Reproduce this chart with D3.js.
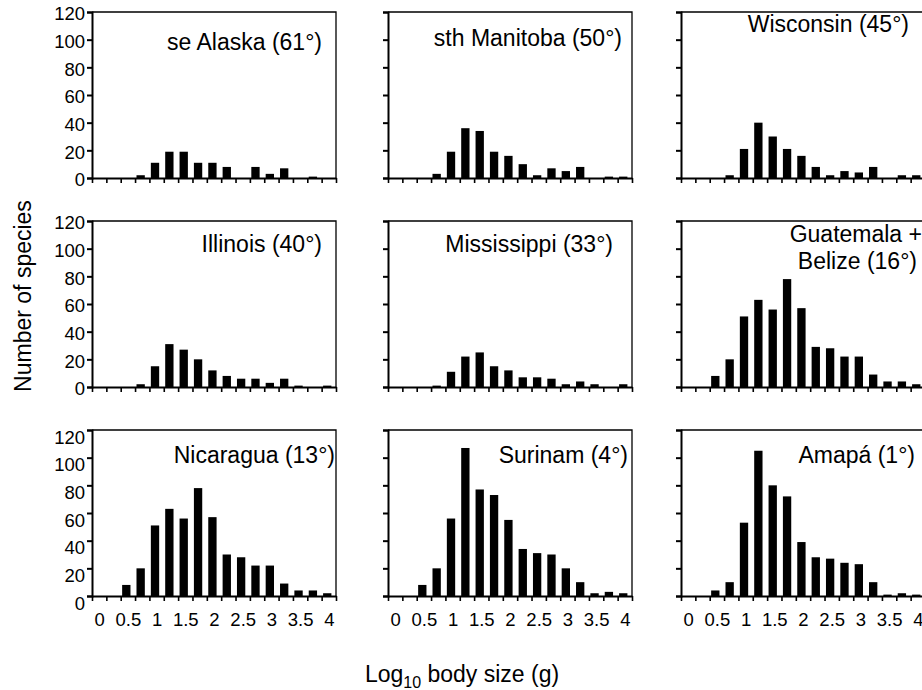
<!DOCTYPE html>
<html>
<head>
<meta charset="utf-8">
<script src="https://cdn.jsdelivr.net/npm/d3@7"></script>
<style>
  body { margin: 0; background: #fff; }
  svg { font-family: "Liberation Sans", Arial, sans-serif; }
</style>
</head>
<body>
<svg id="chart" width="922" height="690"></svg>
<script>
// bin centres, log10 body size (g)
var bins = [0, 0.25, 0.5, 0.75, 1, 1.25, 1.5, 1.75, 2, 2.25, 2.5, 2.75, 3, 3.25, 3.5, 3.75, 4];
var xLabels = [0, 0.5, 1, 1.5, 2, 2.5, 3, 3.5, 4];
var yTicks = [0, 20, 40, 60, 80, 100, 120];

var titles = [
  ["se Alaska (61°)"], ["sth Manitoba (50°)"], ["Wisconsin (45°)"],
  ["Illinois (40°)"], ["Mississippi (33°)"], ["Guatemala +", "Belize (16°)"],
  ["Nicaragua (13°)"], ["Surinam (4°)"], ["Amapá (1°)"]
];

// number of species per bin
var seAlaska        = [0, 0, 0, 2, 11, 19, 19, 11, 11, 8, 0, 8, 3, 7, 0, 1, 0];
var sthManitoba     = [0, 0, 0, 3, 19, 36, 34, 19, 16, 10, 2, 7, 5, 8, 0, 1, 1];
var wisconsin       = [0, 0, 0, 2, 21, 40, 30, 21, 16, 8, 2, 5, 4, 8, 0, 2, 2];
var illinois        = [0, 0, 0, 2, 15, 31, 27, 20, 12, 8, 6, 6, 3, 6, 1, 0, 1];
var mississippi     = [0, 0, 0, 1, 11, 22, 25, 15, 12, 7, 7, 6, 2, 4, 2, 0, 2];
var guatemalaBelize = [0, 0, 8, 20, 51, 63, 56, 78, 57, 29, 28, 22, 22, 9, 4, 4, 2];
var nicaragua       = [0, 0, 8, 20, 51, 63, 56, 78, 57, 30, 28, 22, 22, 9, 4, 4, 2];
var surinam         = [0, 0, 8, 20, 56, 107, 77, 73, 55, 34, 31, 30, 20, 10, 2, 3, 2];
var amapa           = [0, 0, 4, 10, 53, 105, 80, 72, 39, 28, 27, 24, 23, 10, 1, 2, 1];

var series = [seAlaska, sthManitoba, wisconsin, illinois, mississippi,
              guatemalaBelize, nicaragua, surinam, amapa];

// layout
var colLeft = [92, 388, 681],
    rowTop = [12, 221, 430],
    panelW = 244,
    panelH = 166;
// title placement per panel: [right inset, baseline below top]
var titlePos = [[14, 38], [10, 34], [16, 20], [14, 31], [19, 31], [3, 21], [1, 33], [4, 33], [10, 33]];

var svg = d3.select("#chart");
var step = 0.25;
var boundaries = bins.map(function(b) { return b - step / 2; }).concat([bins[bins.length - 1] + step / 2]);

series.forEach(function(data, i) {
  var col = i % 3, row = Math.floor(i / 3);
  var left = colLeft[col], top = rowTop[row];

  var x = d3.scaleLinear().domain([bins[0] - step / 2, bins[bins.length - 1] + step / 2]).range([0, panelW]);
  var y = d3.scaleLinear().domain([0, 120]).range([panelH, 0]);
  var stepPx = x(step) - x(0);

  var g = svg.append("g").attr("transform", "translate(" + left + "," + top + ")");

  // bars
  g.selectAll("rect.bar")
    .data(data)
    .enter().append("rect")
    .attr("class", "bar")
    .attr("x", function(d, j) { return x(bins[j] - step / 2) + stepPx * 0.1; })
    .attr("width", stepPx * 0.58)
    .attr("y", function(d) { return y(d); })
    .attr("height", function(d) { return panelH - y(d); })
    .style("fill", "#000");

  // frame: thin top / right
  g.append("path")
    .attr("d", "M0,0H" + panelW + "V" + panelH)
    .attr("fill", "none").attr("stroke", "#000").attr("stroke-width", 1.3);

  // y axis
  var yAxis = d3.axisLeft(y).tickValues(yTicks).tickSize(5).tickPadding(2)
    .tickFormat(col === 0 ? d3.format("d") : "");
  var ya = g.append("g").call(yAxis);
  ya.select(".domain").attr("stroke-width", 2);
  ya.selectAll(".tick line").attr("stroke-width", 2);
  ya.selectAll("text")
    .style("font-size", "18.5px")
    .attr("fill", "#000")
    .attr("dy", row === 2 ? "0.72em" : "0.42em");

  // x axis ticks at bin edges
  var xAxis = d3.axisBottom(x).tickValues(boundaries).tickSize(5).tickSizeOuter(0).tickFormat("");
  var xa = g.append("g").attr("transform", "translate(0," + panelH + ")").call(xAxis);
  xa.select(".domain").attr("stroke-width", 2);
  xa.selectAll(".tick line").attr("stroke-width", 1.6);

  // x tick labels only on bottom row
  if (row === 2) {
    var xl = g.append("g").attr("transform", "translate(0," + panelH + ")")
      .call(d3.axisBottom(x).tickValues(xLabels).tickSize(0).tickPadding(17).tickFormat(d3.format("")));
    xl.select(".domain").remove();
    xl.selectAll("text").style("font-size", "18.5px").attr("fill", "#000");
  }

  // panel title
  var tp = titlePos[i];
  var t = g.append("text")
    .attr("text-anchor", "end")
    .style("font-size", "23px")
    .attr("fill", "#000");
  titles[i].forEach(function(line, k) {
    t.append("tspan")
      .attr("x", panelW - tp[0] - (k > 0 ? 5 : 0))
      .attr("y", tp[1] + k * 27)
      .text(line);
  });
});

// axis titles
svg.append("text")
  .attr("transform", "translate(31,296) rotate(-90)")
  .attr("text-anchor", "middle")
  .style("font-size", "23px")
  .text("Number of species");

var xt = svg.append("text")
  .attr("x", 462)
  .attr("y", 682)
  .attr("text-anchor", "middle")
  .style("font-size", "23px");
xt.append("tspan").text("Log");
xt.append("tspan").attr("dy", 6).style("font-size", "16px").text("10");
xt.append("tspan").attr("dy", -6).text(" body size (g)");
</script>
</body>
</html>
